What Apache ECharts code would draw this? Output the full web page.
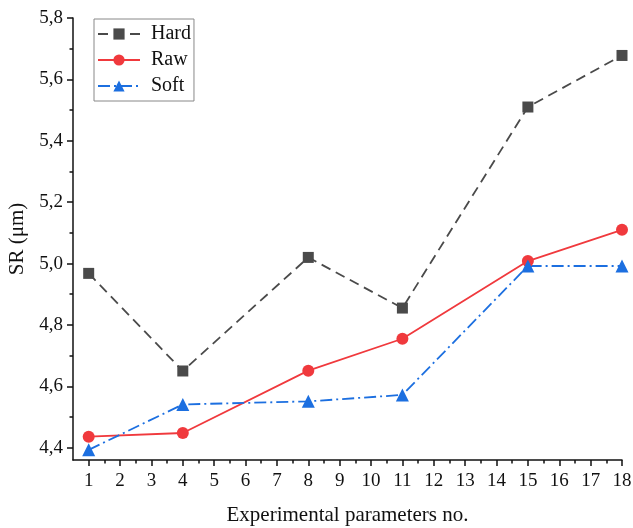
<!DOCTYPE html>
<html lang="en">
<head>
    <title>SR chart</title>
    <meta charset="utf-8">
</head>
<body style="margin:0">
<script type="text/javascript" src="https://cdn.jsdelivr.net/npm/echarts@6/dist/echarts.min.js"></script>
<div id="main" style="width: 633px;height: 528px"></div>
<script type="text/javascript">
    var xValues = [1, 4, 8, 11, 15, 18];
    var hard = [4.968, 4.65, 5.02, 4.855, 5.51, 5.678];
    var raw = [4.436, 4.448, 4.651, 4.755, 5.008, 5.11];
    var soft = [4.393, 4.541, 4.551, 4.572, 4.992, 4.992];

    var xTicks = [1, 2, 3, 4, 5, 6, 7, 8, 9, 10, 11, 12, 13, 14, 15, 16, 17, 18];
    var xMinor = [1.5, 2.5, 3.5, 4.5, 5.5, 6.5, 7.5, 8.5, 9.5, 10.5, 11.5, 12.5, 13.5, 14.5, 15.5, 16.5, 17.5];
    var yTicks = [4.4, 4.6, 4.8, 5.0, 5.2, 5.4, 5.6, 5.8];
    var yMinor = [4.5, 4.7, 4.9, 5.1, 5.3, 5.5, 5.7];

    var font = 'Liberation Serif';
    var ink = '#111';

    function pairs(arr) {
        return xValues.map(function (x, i) { return [x, arr[i]]; });
    }

    var dom = document.getElementById('main');
    var myChart = echarts.init(dom, null, {renderer: 'canvas'});

    var xBase = {type: 'value', min: 0.5, max: 18, splitLine: {show: false}, position: 'bottom'};
    var yBase = {type: 'value', min: 4.36, max: 5.8, splitLine: {show: false}, position: 'left'};

    var option = {
        animation: false,
        backgroundColor: '#fff',
        grid: {left: 73, right: 11, top: 18, bottom: 68, containLabel: false, outerBoundsMode: 'none'},
        legend: {
            left: 94, top: 19,
            orient: 'vertical',
            itemWidth: 42, itemHeight: 14, itemGap: 6,
            padding: [5, 3, 5, 3],
            borderColor: '#888', borderWidth: 1,
            textStyle: {fontFamily: font, fontSize: 20, color: ink, lineHeight: 20, padding: [0, 0, 0, 6]},
            data: ['Hard', 'Raw', 'Soft']
        },
        xAxis: [
            Object.assign({}, xBase, {
                name: 'Experimental parameters no.',
                nameLocation: 'middle', nameGap: 45,
                nameTextStyle: {fontFamily: font, fontSize: 21, color: ink},
                axisLine: {lineStyle: {color: ink, width: 1.5}},
                axisTick: {customValues: xTicks, length: 6, lineStyle: {color: ink, width: 1.5}},
                axisLabel: {customValues: xTicks, fontFamily: font, fontSize: 19, color: ink, margin: 12}
            }),
            Object.assign({}, xBase, {
                axisLine: {show: false},
                axisTick: {customValues: xMinor, length: 3.5, lineStyle: {color: ink, width: 1.5}},
                axisLabel: {show: false}
            })
        ],
        yAxis: [
            Object.assign({}, yBase, {
                name: 'SR (μm)',
                nameLocation: 'middle', nameGap: 44, nameRotate: 90,
                nameTextStyle: {fontFamily: font, fontSize: 21, color: ink},
                axisLine: {show: true, lineStyle: {color: ink, width: 1.5}},
                axisTick: {show: true, customValues: yTicks, length: 6, lineStyle: {color: ink, width: 1.5}},
                axisLabel: {
                    customValues: yTicks, fontFamily: font, fontSize: 19, color: ink, margin: 10,
                    formatter: function (v) { return v.toFixed(1).replace('.', ','); }
                }
            }),
            Object.assign({}, yBase, {
                axisLine: {show: false},
                axisTick: {show: true, customValues: yMinor, length: 3.5, lineStyle: {color: ink, width: 1.5}},
                axisLabel: {show: false}
            })
        ],
        series: [{
            name: 'Hard',
            type: 'line',
            data: pairs(hard),
            symbol: 'rect', symbolSize: 11,
            itemStyle: {color: '#4a4a4a'},
            lineStyle: {color: '#4a4a4a', width: 1.8, type: [10, 6]}
        }, {
            name: 'Raw',
            type: 'line',
            data: pairs(raw),
            symbol: 'circle', symbolSize: 12,
            itemStyle: {color: '#f0393d'},
            lineStyle: {color: '#f0393d', width: 1.8}
        }, {
            name: 'Soft',
            type: 'line',
            data: pairs(soft),
            symbol: 'triangle', symbolSize: 13,
            itemStyle: {color: '#1c6fe0'},
            lineStyle: {color: '#1c6fe0', width: 1.8, type: [12, 4, 2, 4]}
        }]
    };
    myChart.setOption(option);
</script>
</body>
</html>
